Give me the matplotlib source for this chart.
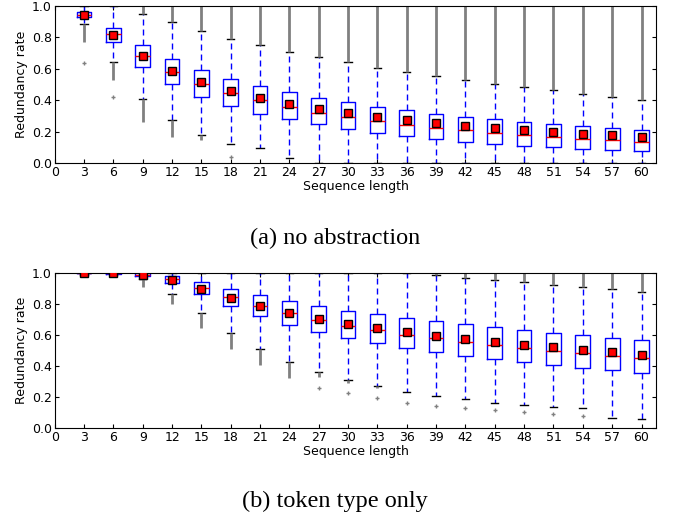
import matplotlib
matplotlib.use("Agg")
import matplotlib.pyplot as plt

plt.rcParams["font.family"] = "DejaVu Sans"
plt.rcParams["font.size"] = 9

POSITIONS = list(range(3, 61, 3))

# (a) no abstraction
A_Q1 = [0.93, 0.771, 0.61, 0.502, 0.424, 0.362, 0.316, 0.282, 0.248, 0.218,
        0.193, 0.172, 0.153, 0.138, 0.125, 0.112, 0.104, 0.093, 0.085, 0.08]
A_Q3 = [0.96, 0.86, 0.75, 0.661, 0.591, 0.534, 0.489, 0.451, 0.417, 0.388,
        0.36, 0.337, 0.316, 0.297, 0.28, 0.265, 0.248, 0.235, 0.225, 0.212]
A_MED = [0.945, 0.82, 0.682, 0.583, 0.506, 0.449, 0.403, 0.36, 0.322, 0.292,
         0.267, 0.246, 0.225, 0.21, 0.193, 0.178, 0.167, 0.155, 0.146, 0.133]
A_MEAN = [0.943, 0.816, 0.682, 0.589, 0.517, 0.462, 0.417, 0.379, 0.345, 0.318,
          0.294, 0.273, 0.254, 0.237, 0.222, 0.21, 0.197, 0.186, 0.178, 0.169]
A_WLO = [0.888, 0.642, 0.411, 0.275, 0.182, 0.123, 0.10, 0.032, 0.0, 0.0,
         0.0, 0.0, 0.0, 0.0, 0.0, 0.0, 0.0, 0.0, 0.0, 0.0]
A_WHI = [1.0, 1.0, 0.947, 0.896, 0.839, 0.788, 0.75, 0.708, 0.674, 0.642,
         0.608, 0.58, 0.555, 0.53, 0.506, 0.483, 0.464, 0.443, 0.424, 0.405]
# dense runs of outliers (low, high) and isolated outliers
A_RUNS_LO = [(0.77, 0.888), (0.53, 0.642), (0.26, 0.411), (0.17, 0.275), (0.148, 0.182)]
A_SINGLE = [[0.64], [0.42], [], [], [], [0.04], [], [], [], [],
            [], [], [], [], [], [], [], [], [], []]

# (b) token type only
B_Q1 = [0.995, 0.994, 0.979, 0.931, 0.861, 0.784, 0.72, 0.662, 0.617, 0.578,
        0.548, 0.518, 0.49, 0.467, 0.445, 0.426, 0.405, 0.39, 0.373, 0.358]
B_Q3 = [1.0, 1.0, 0.996, 0.976, 0.942, 0.897, 0.854, 0.818, 0.786, 0.756,
        0.732, 0.707, 0.687, 0.668, 0.649, 0.63, 0.615, 0.597, 0.582, 0.565]
B_MED = [1.0, 1.0, 0.987, 0.957, 0.901, 0.844, 0.786, 0.739, 0.696, 0.66,
         0.63, 0.602, 0.578, 0.557, 0.533, 0.514, 0.499, 0.482, 0.467, 0.45]
B_MEAN = [1.0, 0.996, 0.985, 0.951, 0.897, 0.837, 0.784, 0.739, 0.70, 0.668,
          0.642, 0.617, 0.593, 0.574, 0.555, 0.535, 0.52, 0.503, 0.488, 0.473]
B_WLO = [0.987, 0.985, 0.961, 0.865, 0.739, 0.615, 0.512, 0.426, 0.362, 0.31,
         0.274, 0.233, 0.21, 0.19, 0.165, 0.15, 0.137, 0.133, 0.069, 0.062]
B_WHI = [1.0, 1.0, 1.0, 1.0, 1.0, 1.0, 1.0, 1.0, 1.0, 1.0,
         1.0, 0.996, 0.983, 0.968, 0.951, 0.938, 0.921, 0.908, 0.893, 0.874]
B_RUNS_LO = [(0.98, 0.987), (0.98, 0.985), (0.91, 0.961), (0.796, 0.865), (0.642, 0.739),
             (0.507, 0.615), (0.405, 0.512), (0.321, 0.426), (0.33, 0.362), (0.289, 0.31),
             (0.257, 0.274)]
B_SINGLE = [[], [], [], [], [], [], [], [], [0.261], [0.229],
            [0.197], [0.165], [0.146], [0.133], [0.118], [0.105], [0.092], [0.081], [], []]


def draw(ax, q1, q3, med, mean, wlo, whi, runs_lo, single):
    stats = []
    for i in range(len(POSITIONS)):
        stats.append(dict(q1=q1[i], q3=q3[i], med=med[i], mean=mean[i],
                          whislo=wlo[i], whishi=whi[i], fliers=single[i]))
    ax.bxp(stats, positions=POSITIONS, widths=1.5, showmeans=True, manage_ticks=False,
           boxprops=dict(color="blue", lw=1),
           whiskerprops=dict(color="blue", ls=(0, (4.3, 2.9)), lw=1),
           capprops=dict(color="black", lw=1),
           medianprops=dict(color="red", lw=1),
           meanprops=dict(marker="s", markerfacecolor="red", markeredgecolor="black",
                          markersize=5.5, zorder=4),
           flierprops=dict(marker="+", markeredgecolor="gray", markersize=3))
    # dense outlier runs below the lower whisker
    for i, (lo, hi) in enumerate(runs_lo):
        ax.vlines(POSITIONS[i], lo, hi, color="gray", lw=2)
    # dense outlier runs above the upper whisker
    for i, hi in enumerate(whi):
        if hi < 1.0:
            ax.vlines(POSITIONS[i], hi, 1.0, color="gray", lw=2)
    ax.set_xlim(0, 61.5)
    ax.set_ylim(0, 1.0)
    ax.set_xticks(range(0, 61, 3))
    ax.set_yticks([0.0, 0.2, 0.4, 0.6, 0.8, 1.0])
    ax.set_yticklabels(["0.0", "0.2", "0.4", "0.6", "0.8", "1.0"])
    ax.tick_params(direction="in", top=True, right=True, length=3, pad=2)
    ax.set_xlabel("Sequence length", labelpad=1)
    ax.set_ylabel("Redundancy rate", labelpad=3)


fig = plt.figure(figsize=(6.73, 5.19), dpi=100)
ax1 = fig.add_axes([0.0813, 0.6854, 0.8937, 0.303])
ax2 = fig.add_axes([0.0813, 0.1748, 0.8937, 0.2998])

draw(ax1, A_Q1, A_Q3, A_MED, A_MEAN, A_WLO, A_WHI, A_RUNS_LO, A_SINGLE)
draw(ax2, B_Q1, B_Q3, B_MED, B_MEAN, B_WLO, B_WHI, B_RUNS_LO, B_SINGLE)

fig.text(0.498, 1 - 238 / 519, "(a) no abstraction", ha="center", va="center",
         family="Liberation Serif", fontsize=17.5)
fig.text(0.498, 1 - 501 / 519, "(b) token type only", ha="center", va="center",
         family="Liberation Serif", fontsize=17.5)

fig.savefig("out.png", dpi=100)
